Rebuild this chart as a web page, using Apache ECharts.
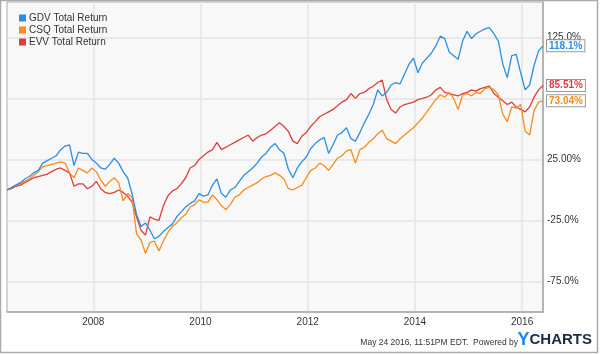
<!DOCTYPE html>
<html lang="en">
<head>
    <meta charset="UTF-8">
    <title>GDV vs CSQ vs EVV Total Return</title>
    <script src="https://cdn.jsdelivr.net/npm/echarts@6/dist/echarts.min.js"></script>
    <style>
        html, body {margin: 0; padding: 0; background: #fff;}
    </style>
</head>
<body>
<div id="main" style="width: 600px;height:354px;"></div>
<script type="text/javascript">
    // monthly samples starting 24 May 2006 (decimal years)
    var startYear = 2006.39;
    var seriesNames = ['GDV Total Return', 'CSQ Total Return', 'EVV Total Return'];
    var colors = ['#2a8fe4', '#f98b1e', '#e23b3b'];
    var yearTicks = [2008, 2010, 2012, 2014, 2016];
    var gridValues = [-75, -25, 25, 75, 125];
    var labelValues = [-75, -25, 25, 125];
    var labelText = {'125': '125.0%', '75': '75.00%', '25': '25.00%', '-25': '-25.0%', '-75': '-75.0%'};

    // GDV
    var gdv = [0, 2, 4, 6, 9, 11, 14, 16, 22, 24, 26, 28, 33, 36, 37, 20, 31, 30, 30, 25,
        22, 18, 17, 21, 26, 22, 15, 10, -3, -20, -30, -27, -33, -40, -38, -34, -31, -28, -22, -18,
        -14, -11, -9, -3, -5, -4, 4, 9, -3, -6, 0, 2, 7, 12, 15, 18, 22, 27, 30, 35,
        38, 33, 30, 17, 10, 18, 23, 27, 34, 38, 41, 43, 30, 37, 45, 47, 51, 42, 40, 47,
        55, 62, 70, 82, 77, 80, 86, 88, 87, 95, 103, 108, 96, 104, 108, 112, 118, 126, 124, 113,
        110, 107, 122, 130, 124, 128, 130, 132, 133, 128, 122, 103, 92, 110, 111, 96, 82, 86, 102, 114,
        118.1];
    // CSQ
    var csq = [0, 2, 4, 5, 7, 9, 12, 15, 19, 20, 21, 22, 23, 22, 14, 10, 18, 16, 14, 18,
        15, 8, 3, 7, 10, 6, -9, -3, -6, -36, -41, -52, -43, -42, -50, -42, -35, -30, -27, -23,
        -20, -14, -12, -8, -10, -10, -4, -8, -13, -16, -12, -6, -4, 0, 2, 4, 6, 9, 11, 12,
        14, 12, 9, 1, 0, 2, 4, 10, 16, 18, 22, 20, 16, 21, 26, 28, 32, 33, 22, 33,
        35, 39, 42, 46, 49, 42, 40, 38, 42, 45, 48, 51, 55, 59, 64, 69, 74, 78, 76, 80,
        75, 66, 78, 79, 77, 80, 79, 83, 84, 82, 78, 62, 56, 68, 67, 70, 48, 45, 65, 72,
        73.04];
    // EVV
    var evv = [0, 1, 3, 4, 6, 8, 10, 11, 12, 13, 15, 17, 18, 16, 14, 3, 5, 5, 1, 3,
        7, 1, -2, -3, -2, 0, -2, -5, -10, -22, -33, -37, -22, -24, -25, -13, -5, -1, 1, 5,
        10, 18, 20, 25, 28, 31, 33, 39, 33, 35, 37, 39, 41, 43, 45, 40, 43, 45, 46, 49,
        52, 55, 52, 48, 40, 38, 44, 47, 52, 56, 60, 62, 64, 66, 69, 72, 74, 79, 75, 79,
        80, 83, 85, 88, 90, 74, 66, 63, 68, 70, 71, 72, 74, 75, 76, 78, 82, 84, 80, 79,
        78, 77, 79, 80, 82, 81, 83, 84, 85, 79, 76, 73, 70, 72, 68, 66, 64, 68, 76, 82,
        85.51];

    function pairs(arr) {
        var out = [];
        for (var i = 0; i < arr.length; i++) {
            out.push([startYear + i / 12, arr[i]]);
        }
        return out;
    }

    var allData = [gdv, csq, evv];
    var series = [];
    for (var s = 0; s < allData.length; s++) {
        series.push({
            name: seriesNames[s],
            type: 'line',
            data: pairs(allData[s]),
            showSymbol: false,
            symbol: 'none',
            z: 5 - s,
            lineStyle: {width: 1.3, color: colors[s]},
            itemStyle: {color: colors[s]},
            endLabel: {
                show: true,
                distance: 4,
                formatter: (function (arr) {
                    return function () {
                        return arr[arr.length - 1] + '%';
                    };
                })(allData[s]),
                color: colors[s],
                fontWeight: 'bold',
                fontSize: 10,
                fontFamily: 'Arial, Liberation Sans, sans-serif',
                backgroundColor: '#fff',
                borderColor: '#999',
                borderWidth: 1,
                padding: [1, 2, 0, 2]
            }
        });
    }

    var myChart = echarts.init(document.getElementById('main'));
    var option = {
        backgroundColor: '#fff',
        animation: false,
        textStyle: {fontFamily: 'Arial, Liberation Sans, sans-serif'},
        color: colors,
        legend: {
            orient: 'vertical',
            left: 14,
            top: 8,
            itemWidth: 7,
            itemHeight: 7,
            itemGap: 2,
            icon: 'rect',
            textStyle: {fontSize: 10, color: '#333', padding: [0, 0, 0, -2]},
            data: seriesNames
        },
        grid: {
            show: true,
            left: 7,
            right: 57,
            top: 2,
            height: 310,
            backgroundColor: '#f8f8f8',
            borderColor: '#aaa',
            borderWidth: 1
        },
        xAxis: {
            type: 'value',
            min: startYear,
            max: startYear + 10,
            axisLine: {show: true, onZero: false, lineStyle: {color: '#aaa', width: 1.5}},
            axisTick: {show: false, customValues: yearTicks},
            splitLine: {show: true, lineStyle: {color: '#e4e4e4', width: 1.5}},
            axisLabel: {
                customValues: yearTicks,
                fontSize: 10,
                color: '#333',
                margin: 5,
                formatter: function (v) { return String(Math.round(v)); }
            }
        },
        yAxis: {
            type: 'value',
            position: 'right',
            min: -100,
            max: 154,
            axisLine: {show: true, onZero: false, lineStyle: {color: '#aaa', width: 1.5}},
            axisTick: {show: false, customValues: gridValues},
            splitLine: {show: true, lineStyle: {color: '#e4e4e4', width: 1.5}},
            axisLabel: {
                customValues: labelValues,
                fontSize: 10,
                color: '#333',
                margin: 4,
                formatter: function (v) { return labelText[String(Math.round(v))] || ''; }
            }
        },
        graphic: [
            {
                type: 'rect',
                shape: {x: 0.5, y: 0.5, width: 597, height: 352},
                style: {fill: 'none', stroke: '#aaa', lineWidth: 1.5},
                silent: true
            },
            {
                type: 'text',
                right: 82,
                top: 338,
                style: {
                    text: 'May 24 2016, 11:51PM EDT.  Powered by',
                    fill: '#333',
                    font: '8.5px Arial, Liberation Sans, sans-serif'
                }
            },
            {
                type: 'text',
                right: 8,
                top: 331,
                style: {
                    text: '{y|Y}{c|CHARTS}',
                    rich: {
                        y: {fontSize: 18, fontWeight: 'bold', fill: '#1e88e5', fontFamily: 'Arial, Liberation Sans, sans-serif'},
                        c: {fontSize: 15, fontWeight: 'bold', fill: '#1b2b47', fontFamily: 'Arial, Liberation Sans, sans-serif'}
                    }
                }
            }
        ],
        series: series
    };
    myChart.setOption(option);
</script>
</body>
</html>
